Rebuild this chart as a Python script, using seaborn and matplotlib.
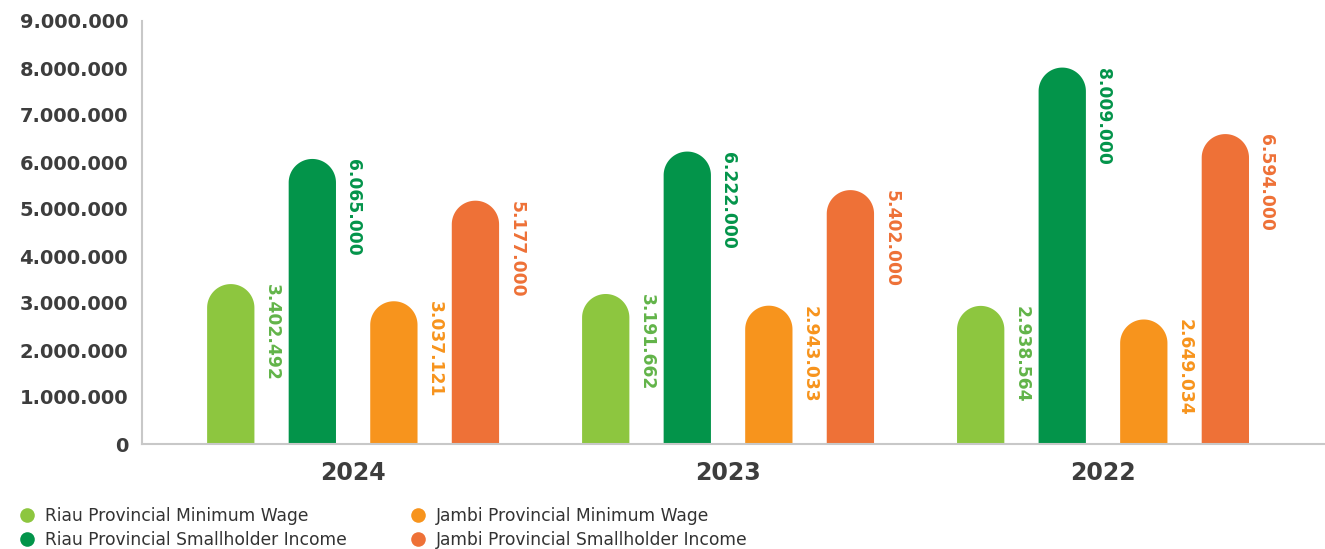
import pandas as pd
import numpy as np
import matplotlib
matplotlib.use("Agg")
import matplotlib.pyplot as plt
import seaborn as sns
from matplotlib.patches import Polygon
from matplotlib.lines import Line2D
from matplotlib.ticker import FuncFormatter

# ---- data ----
years = ["2024", "2023", "2022"]
series = ["Riau Provincial Minimum Wage", "Riau Provincial Smallholder Income",
          "Jambi Provincial Minimum Wage", "Jambi Provincial Smallholder Income"]
riau_wage = [3402492, 3191662, 2938564]
riau_income = [6065000, 6222000, 8009000]
jambi_wage = [3037121, 2943033, 2649034]
jambi_income = [5177000, 5402000, 6594000]

bar_colors = ["#8dc63f", "#03944a", "#f7941d", "#ee7137"]
label_colors = ["#62b449", "#03944a", "#f7941d", "#ee7137"]

values = [riau_wage, riau_income, jambi_wage, jambi_income]
df = pd.DataFrame([{"year": y, "series": s, "value": v[i]}
                   for s, v in zip(series, values) for i, y in enumerate(years)])

# ---- figure ----
sns.set_style("white")
plt.rcParams["font.family"] = ["DejaVu Sans"]
fig = plt.figure(figsize=(13.25, 5.49), dpi=100)
ax = fig.add_axes([142 / 1325, 105 / 549, 1183 / 1325, 423 / 549])

sns.barplot(data=df, x="year", y="value", hue="series", order=years,
            hue_order=series, palette=bar_colors, width=0.87, gap=0.42,
            legend=False, ax=ax, saturation=1)

ax.set_xlim(-0.563, 2.592)
ax.set_ylim(0, 9e6)
ax.set_yticks(np.arange(0, 9e6 + 1, 1e6))
ax.yaxis.set_major_formatter(FuncFormatter(lambda v, p: f"{int(v):,}".replace(",", ".")))
ax.set_xlabel("")
ax.set_ylabel("")

# units per pixel, so the round caps come out as half circles
p0 = ax.transData.transform((0, 0))
p1 = ax.transData.transform((1, 1e6))
x_per_px = 1 / (p1[0] - p0[0])
y_per_px = 1e6 / (p1[1] - p0[1])
aspect = y_per_px / x_per_px

theta = np.linspace(0, np.pi, 60)

# replace bars with rounded-top bars + value labels
bars = list(ax.patches)
for b in bars:
    x, w, h = b.get_x(), b.get_width(), b.get_height()
    fc = b.get_facecolor()
    b.remove()
    rx = w / 2
    ry = rx * aspect
    cx, cy = x + rx, h - ry
    arc = np.column_stack([cx + rx * np.cos(theta), cy + ry * np.sin(theta)])
    pts = np.vstack([[x + w, 0], arc, [x, 0]])
    ax.add_patch(Polygon(pts, closed=True, facecolor=fc, edgecolor="none", zorder=2))
    idx = min(range(4), key=lambda k: np.sum(np.abs(
        np.array(matplotlib.colors.to_rgb(bar_colors[k])) - np.array(fc[:3]))))
    ax.annotate(f"{int(round(h)):,}".replace(",", "."), xy=(x + w, h),
                xytext=(6, 0), textcoords="offset points", rotation=270,
                ha="left", va="top", fontsize=12.3, fontweight="bold",
                color=label_colors[idx])

# axes styling
for side in ["top", "right"]:
    ax.spines[side].set_visible(False)
for side in ["left", "bottom"]:
    ax.spines[side].set_color("#c8c8c8")
    ax.spines[side].set_linewidth(1.5)
ax.tick_params(axis="y", direction="in", length=14.5, width=1.5, color="#c8c8c8",
               pad=10, labelsize=14, labelcolor="#3d3d3d")
for t in ax.get_yticklabels():
    t.set_fontweight("bold")
ax.tick_params(axis="x", length=0, pad=12, labelsize=17, labelcolor="#3d3d3d")
for t in ax.get_xticklabels():
    t.set_fontweight("bold")

# legend
handles = [Line2D([0], [0], marker="o", linestyle="none", markersize=10.5,
                  markerfacecolor=c, markeredgecolor="none") for c in bar_colors]
fig.legend(handles, series, ncol=2, loc="lower left", bbox_to_anchor=(0.0027, -0.028),
           frameon=False, fontsize=12.3, labelcolor="#333333", handletextpad=0.55,
           columnspacing=3.66, labelspacing=0.35, handlelength=1.0)

fig.savefig("out.png", dpi=100)
